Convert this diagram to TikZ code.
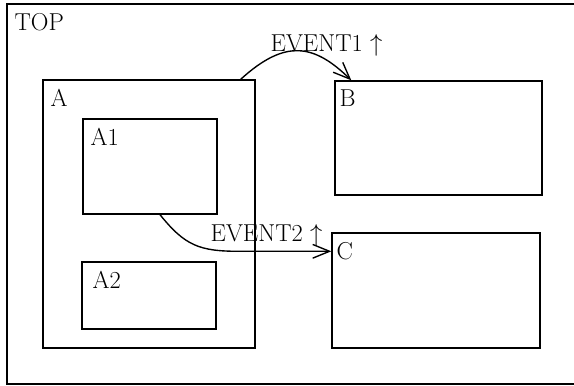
\RequirePackage{fix-cm}
\documentclass[tikz,border=0pt]{standalone}
\usetikzlibrary{arrows.meta, calc, fit}

\begin{document}
\begin{tikzpicture}[x=0.023cm, y=-0.023cm, font=\fontsize{16}{19}\selectfont, line width=0.9pt,
  >={Straight Barb[length=11pt, width=9pt]},
  estado/.style={draw, rectangle, inner sep=0pt},
  rotulo/.style={anchor=north west, inner xsep=5pt, inner ysep=6pt},
  evento/.style={anchor=base west, inner sep=0pt}]
  \clip (0,0) rectangle (574,386);
  % estados
  \node[estado, fit={(7,4) (590,384)}, label={[rotulo]north west:TOP}] (top) {};
  \node[estado, fit={(43,80) (255,348)}, label={[rotulo]north west:A}] (A) {};
  \node[estado, fit={(83,119) (217,214)}, label={[rotulo]north west:A1}] (A1) {};
  \node[estado, fit={(82,262) (216,329)}, label={[rotulo, inner xsep=7pt]north west:A2}] (A2) {};
  \node[estado, fit={(335,81) (542,195)}, label={[rotulo, inner xsep=3pt]north west:B}] (B) {};
  \node[estado, fit={(332,233) (540,348)}, label={[rotulo, inner xsep=3pt]north west:C}] (C) {};
  % transiciones
  \draw[->] ($(A.north east)+(-15,0)$) .. controls +(45,-41) and +(-37,-36) .. ($(B.north west)+(17,0)$);
  \node[evento] (ev1) at (270,52) {EVENT1 $\uparrow$};
  \draw[->] ($(A1.south)+(10,0)$) .. controls +(25,31) and +(-40,0) .. ($(C.north west)+(-92,19)$)
    -- ($(C.north west)+(0,19)$);
  \node[evento] (ev2) at (210,242) {EVENT2 $\uparrow$};
\end{tikzpicture}
\end{document}
